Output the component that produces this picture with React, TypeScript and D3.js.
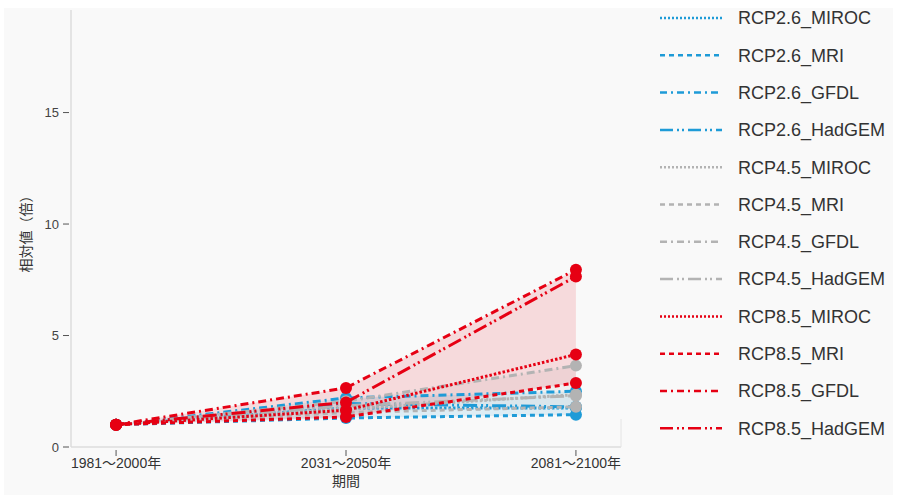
import React from "react";
import * as d3 from "d3";

const periods = ["1981～2000年", "2031～2050年", "2081～2100年"];
const scenarios = ["RCP2.6", "RCP4.5", "RCP8.5"];
const models = ["MIROC", "MRI", "GFDL", "HadGEM"];

const rcp26 = [
  [1, 1.75, 1.75],
  [1, 1.3, 1.45],
  [1, 2.2, 2.5],
  [1, 1.95, 1.8],
];
const rcp45 = [
  [1, 1.7, 2.35],
  [1, 1.55, 1.8],
  [1, 2.05, 3.65],
  [1, 1.85, 2.3],
];
const rcp85 = [
  [1, 1.65, 4.15],
  [1, 1.35, 2.87],
  [1, 2.65, 7.95],
  [1, 2.0, 7.65],
];
const yTicks = [0, 5, 10, 15];

const scenarioValues = [rcp26, rcp45, rcp85];
const scenarioColors = ["#1e9bd7", "#b3b3b3", "#e60013"];
const dashes = ["2.5,2", "5,4", "8,4,2,4", "14,4,2,3,2,4"];
const legendDashes = ["2,2", "5,4", "7,4,2,4", "13,4,2,3,2,4"];

export default function App() {
  const W = 897, H = 499;
  const left = 71, right = 621, top = 10, bottom = 447;
  const x = d3.scalePoint<string>().domain(periods).range([left, right]).padding(0.196);
  const y = d3.scaleLinear().domain([0, 19.6]).range([bottom, top]);
  const line = d3.line<number>().x((_, i) => x(periods[i])!).y((d) => y(d));
  const font = "'Liberation Sans', Arial, 'Noto Sans CJK JP', sans-serif";

  const series = scenarios.flatMap((s, si) =>
    models.map((m, mi) => ({
      name: `${s}_${m}`,
      values: scenarioValues[si][mi],
      color: scenarioColors[si],
      dash: dashes[mi],
      ldash: legendDashes[mi],
    }))
  );

  const bands = scenarioValues.map((vals, si) => {
    const mins = periods.map((_, i) => d3.min(vals, (v) => v[i])!);
    const maxs = periods.map((_, i) => d3.max(vals, (v) => v[i])!);
    const area = d3
      .area<number>()
      .x((_, i) => x(periods[i])!)
      .y0((_, i) => y(mins[i]))
      .y1((_, i) => y(maxs[i]));
    return { d: area(periods.map((_, i) => i))!, color: scenarioColors[si] };
  });

  return (
    <div style={{ position: "absolute", left: 0, top: 0 }}>
      <svg width={W} height={H} style={{ display: "block" }}>
        <rect x={0} y={0} width={W} height={H} fill="#ffffff" />
        <rect x={4} y={8} width={W - 8} height={H - 12} fill="#f9f9f9" />
        <line x1={left} x2={left} y1={top} y2={bottom} stroke="#dddddd" strokeWidth={1.5} />
        <line x1={left} x2={right} y1={bottom} y2={bottom} stroke="#dddddd" strokeWidth={1.5} />
        <line x1={right} x2={right} y1={bottom - 28} y2={bottom} stroke="#e4e4e4" strokeWidth={1} />
        {yTicks.map((t) => (
          <g key={t}>
            <line x1={left - 8} x2={left - 2} y1={y(t)} y2={y(t)} stroke="#555" strokeWidth={1} />
            <text x={left - 12} y={y(t)} dy="0.35em" textAnchor="end" fontSize={13} fill="#444" fontFamily={font}>
              {t}
            </text>
          </g>
        ))}
        {periods.map((p) => (
          <g key={p}>
            <line x1={x(p)} x2={x(p)} y1={bottom + 3} y2={bottom + 9} stroke="#555" strokeWidth={1} />
            <text x={x(p)} y={bottom + 21} textAnchor="middle" fontSize={14} fill="#333" fontFamily={font}>
              {p}
            </text>
          </g>
        ))}
        <text x={x(periods[1])} y={bottom + 39} textAnchor="middle" fontSize={14} fill="#333" fontFamily={font}>
          期間
        </text>
        <text
          transform={`translate(31,${(top + bottom) / 2 + 2}) rotate(-90)`}
          textAnchor="middle"
          fontSize={14}
          fill="#333"
          fontFamily={font}
        >
          相対値（倍）
        </text>
        {bands.map((b, i) => (
          <path key={i} d={b.d} fill={b.color} fillOpacity={0.12} stroke="none" />
        ))}
        {series.map((s) => (
          <g key={s.name}>
            <path d={line(s.values)!} fill="none" stroke={s.color} strokeWidth={3} strokeDasharray={s.dash} />
            {s.values.map((v, i) => (
              <circle key={i} cx={x(periods[i])} cy={y(v)} r={6} fill={s.color} />
            ))}
          </g>
        ))}
        {series.map((s, i) => {
          const cy = 18 + i * 37.3;
          return (
            <g key={"lg" + s.name}>
              <line x1={660} x2={722} y1={cy} y2={cy} stroke={s.color} strokeWidth={2.5} strokeDasharray={s.ldash} />
              <text x={738} y={cy} dy="0.35em" fontSize={18} fill="#333" fontFamily={font}>
                {s.name}
              </text>
            </g>
          );
        })}
      </svg>
    </div>
  );
}
